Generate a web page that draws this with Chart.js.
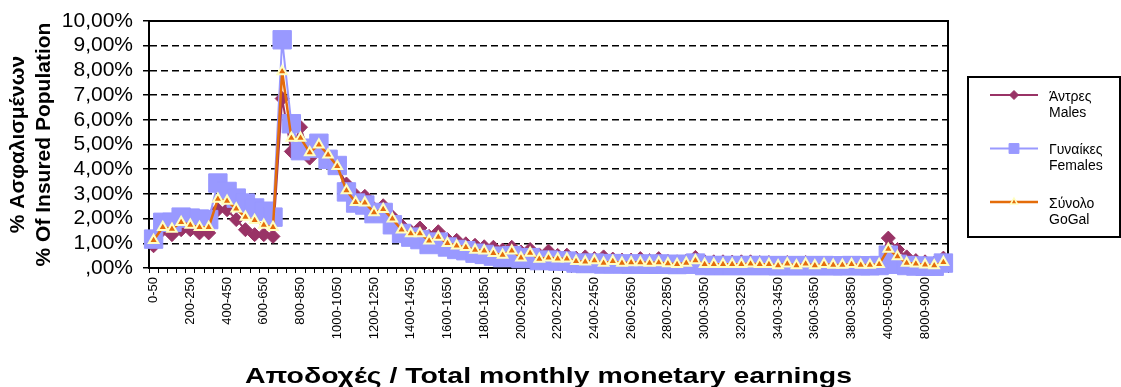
<!DOCTYPE html>
<html>
<head>
<meta charset="utf-8">
<script src="https://cdn.jsdelivr.net/npm/chart.js@4"></script>
<style>
  body { margin: 0; background: #fff; }
</style>
</head>
<body>
<canvas id="earnings" width="1121" height="387"></canvas>
<script>
// Earnings bins (monthly, €)
const categories = [
  '0-50', '50-100', '100-150', '150-200', '200-250', '250-300', '300-350', '350-400',
  '400-450', '450-500', '500-550', '550-600', '600-650', '650-700', '700-750', '750-800',
  '800-850', '850-900', '900-950', '950-1000', '1000-1050', '1050-1100', '1100-1150', '1150-1200',
  '1200-1250', '1250-1300', '1300-1350', '1350-1400', '1400-1450', '1450-1500', '1500-1550', '1550-1600',
  '1600-1650', '1650-1700', '1700-1750', '1750-1800', '1800-1850', '1850-1900', '1900-1950', '1950-2000',
  '2000-2050', '2050-2100', '2100-2150', '2150-2200', '2200-2250', '2250-2300', '2300-2350', '2350-2400',
  '2400-2450', '2450-2500', '2500-2550', '2550-2600', '2600-2650', '2650-2700', '2700-2750', '2750-2800',
  '2800-2850', '2850-2900', '2900-2950', '2950-3000', '3000-3050', '3050-3100', '3100-3150', '3150-3200',
  '3200-3250', '3250-3300', '3300-3350', '3350-3400', '3400-3450', '3450-3500', '3500-3550', '3550-3600',
  '3600-3650', '3650-3700', '3700-3750', '3750-3800', '3800-3850', '3850-3900', '3900-3950', '3950-4000',
  '4000-5000', '5000-6000', '6000-7000', '7000-8000', '8000-9000', '9000-10000', '10000+'
];

// % of insured population per bin
const males = [
  0.90, 1.55, 1.35, 1.55, 1.55, 1.42, 1.42, 2.36, 2.36, 1.96,
  1.55, 1.35, 1.35, 1.28, 6.86, 4.72, 5.70, 4.45, 4.90, 4.50,
  4.10, 3.40, 2.95, 2.90, 2.40, 2.52, 2.07, 1.72, 1.48, 1.62,
  1.28, 1.47, 1.15, 1.12, 0.98, 0.92, 0.86, 0.84, 0.73, 0.84,
  0.65, 0.75, 0.53, 0.68, 0.51, 0.52, 0.40, 0.45, 0.38, 0.45,
  0.36, 0.32, 0.32, 0.38, 0.30, 0.38, 0.27, 0.25, 0.28, 0.43,
  0.26, 0.25, 0.25, 0.24, 0.25, 0.25, 0.22, 0.22, 0.18, 0.22,
  0.18, 0.22, 0.16, 0.20, 0.18, 0.18, 0.20, 0.17, 0.17, 0.20,
  1.21, 0.75, 0.45, 0.30, 0.25, 0.20, 0.40
];
const females = [
  1.17, 1.85, 1.85, 2.06, 2.02, 1.98, 1.96, 3.44, 3.10, 2.83,
  2.63, 2.43, 2.30, 2.06, 9.24, 5.84, 4.75, 4.85, 5.05, 4.40,
  4.15, 3.08, 2.63, 2.55, 2.20, 2.25, 1.75, 1.40, 1.25, 1.15,
  0.95, 1.05, 0.85, 0.75, 0.70, 0.60, 0.55, 0.48, 0.42, 0.50,
  0.38, 0.42, 0.30, 0.32, 0.28, 0.28, 0.20, 0.18, 0.20, 0.16,
  0.18, 0.16, 0.16, 0.16, 0.15, 0.16, 0.15, 0.14, 0.15, 0.20,
  0.10, 0.10, 0.10, 0.10, 0.10, 0.10, 0.10, 0.10, 0.09, 0.10,
  0.09, 0.10, 0.09, 0.10, 0.09, 0.09, 0.10, 0.09, 0.09, 0.10,
  0.52, 0.15, 0.10, 0.08, 0.07, 0.07, 0.20
];
const total = [
  1.12, 1.65, 1.58, 1.85, 1.74, 1.65, 1.65, 2.79, 2.71, 2.40,
  2.06, 1.93, 1.74, 1.65, 7.96, 5.26, 5.26, 4.68, 4.99, 4.59,
  4.12, 3.14, 2.66, 2.64, 2.25, 2.38, 1.99, 1.55, 1.40, 1.40,
  1.10, 1.26, 1.00, 0.90, 0.84, 0.73, 0.70, 0.60, 0.53, 0.70,
  0.42, 0.61, 0.36, 0.42, 0.37, 0.37, 0.27, 0.25, 0.30, 0.20,
  0.27, 0.20, 0.22, 0.22, 0.20, 0.22, 0.18, 0.15, 0.20, 0.30,
  0.15, 0.15, 0.15, 0.15, 0.15, 0.17, 0.15, 0.15, 0.10, 0.17,
  0.10, 0.17, 0.10, 0.15, 0.12, 0.12, 0.15, 0.12, 0.12, 0.15,
  0.77, 0.47, 0.20, 0.17, 0.13, 0.10, 0.23
];

const seriesNames = [['Άντρες', 'Males'], ['Γυναίκες', 'Females'], ['Σύνολο', 'GoGal']];
const yTitle = ['% Ασφαλισμένων', '% Of Insured Population'];
const xTitle = 'Αποδοχές / Total monthly monetary earnings';

const FONT = '"Liberation Sans", Arial, sans-serif';
Chart.defaults.font.family = FONT;
Chart.defaults.color = '#000';

// solid top and right edges of the plot area
const plotFrame = {
  id: 'plotFrame',
  beforeDatasetsDraw(chart) {
    const { ctx, chartArea: a } = chart;
    ctx.save();
    ctx.strokeStyle = '#000';
    ctx.lineWidth = 2;
    ctx.beginPath();
    ctx.moveTo(a.left, a.top);
    ctx.lineTo(a.right, a.top);
    ctx.lineTo(a.right, a.bottom);
    ctx.stroke();
    ctx.restore();
  }
};

// wide bold caption under the category axis
const xCaption = {
  id: 'xCaption',
  afterDraw(chart) {
    const { ctx, chartArea: a } = chart;
    ctx.save();
    ctx.font = 'bold 22px ' + FONT;
    ctx.fillStyle = '#000';
    ctx.textAlign = 'center';
    ctx.textBaseline = 'middle';
    const sx = 607 / ctx.measureText(xTitle).width;
    ctx.translate((a.left + a.right) / 2, 377);
    ctx.scale(sx, 1);
    ctx.fillText(xTitle, 0, 0);
    ctx.restore();
  }
};

// boxed legend on the right with two-line labels
const boxLegend = {
  id: 'boxLegend',
  afterDraw(chart) {
    const { ctx, chartArea: a } = chart;
    const x0 = a.right + 20, y0 = 77, w = 152, h = 160;
    ctx.save();
    ctx.fillStyle = '#fff';
    ctx.fillRect(x0, y0, w, h);
    ctx.strokeStyle = '#000';
    ctx.lineWidth = 2;
    ctx.strokeRect(x0, y0, w, h);
    const marks = [
      { pointStyle: 'rectRot', radius: 4.5, borderWidth: 1, rotation: 0 },
      { pointStyle: 'rect', radius: 7, borderWidth: 1, rotation: 0 },
      { pointStyle: 'triangle', radius: 4, borderWidth: 1.5, rotation: 0 }
    ];
    chart.data.datasets.forEach((ds, i) => {
      const y = y0 + 18 + i * 53.5;
      ctx.strokeStyle = ds.borderColor;
      ctx.lineWidth = ds.borderWidth;
      ctx.beginPath();
      ctx.moveTo(x0 + 22, y);
      ctx.lineTo(x0 + 70, y);
      ctx.stroke();
      ctx.fillStyle = ds.pointBackgroundColor;
      ctx.strokeStyle = ds.pointBorderColor;
      ctx.lineWidth = marks[i].borderWidth;
      Chart.helpers.drawPoint(ctx, marks[i], x0 + 46, y);
      ctx.fillStyle = '#000';
      ctx.font = '14px ' + FONT;
      ctx.textBaseline = 'middle';
      ctx.textAlign = 'left';
      seriesNames[i].forEach((t, j) => ctx.fillText(t, x0 + 81, y + 2 + j * 16));
    });
    ctx.restore();
  }
};

new Chart(document.getElementById('earnings'), {
  type: 'line',
  data: {
    labels: categories,
    datasets: [
      {
        label: seriesNames[0].join(' '),
        data: males,
        borderColor: '#993366',
        borderWidth: 2,
        pointStyle: 'rectRot',
        pointRadius: 7,
        pointBackgroundColor: '#993366',
        pointBorderColor: '#993366',
        pointBorderWidth: 1,
        order: 2
      },
      {
        label: seriesNames[1].join(' '),
        data: females,
        borderColor: '#9999FF',
        borderWidth: 2,
        pointStyle: 'rect',
        pointRadius: 13,
        pointBackgroundColor: '#9999FF',
        pointBorderColor: '#9999FF',
        pointBorderWidth: 1,
        order: 1
      },
      {
        label: seriesNames[2].join(' '),
        data: total,
        borderColor: '#E46C0A',
        borderWidth: 2.5,
        pointStyle: 'triangle',
        pointRadius: 5.5,
        pointBackgroundColor: '#E46C0A',
        pointBorderColor: '#FFFFC0',
        pointBorderWidth: 2,
        order: 0
      }
    ]
  },
  options: {
    responsive: false,
    animation: false,
    clip: false,
    elements: { line: { tension: 0 } },
    layout: { padding: { top: 21, right: 173, bottom: 0, left: 0 } },
    plugins: {
      legend: { display: false },
      tooltip: { enabled: false }
    },
    scales: {
      x: {
        offset: true,
        afterFit(s) { s.height = 119; },
        ticks: {
          autoSkip: false,
          maxRotation: 90,
          minRotation: 90,
          padding: 4,
          font: { size: 13 },
          color: '#000',
          callback(v, i) { return i % 4 === 0 ? this.getLabelForValue(v) : ''; }
        },
        grid: { offset: true, drawOnChartArea: false, color: '#000', tickLength: 5, lineWidth: 1 },
        border: { color: '#000', width: 2 }
      },
      y: {
        min: 0,
        max: 10,
        afterFit(s) { s.width = 149; },
        ticks: {
          stepSize: 1,
          autoSkip: false,
          padding: 10,
          font: { size: 21, lineHeight: 1 },
          color: '#000',
          callback: v => v === 0 ? ',00%' : v.toFixed(2).replace('.', ',') + '%'
        },
        grid: { color: '#000', lineWidth: 1.5, tickLength: 6, tickColor: '#000', tickWidth: 1.5 },
        border: { color: '#000', width: 2, dash: [7, 4] },
        title: {
          display: true,
          text: yTitle,
          font: { size: 21, weight: 'bold', lineHeight: 1.2 },
          color: '#000',
          padding: { top: 6, bottom: 0 }
        }
      }
    }
  },
  plugins: [plotFrame, xCaption, boxLegend]
});
</script>
</body>
</html>
